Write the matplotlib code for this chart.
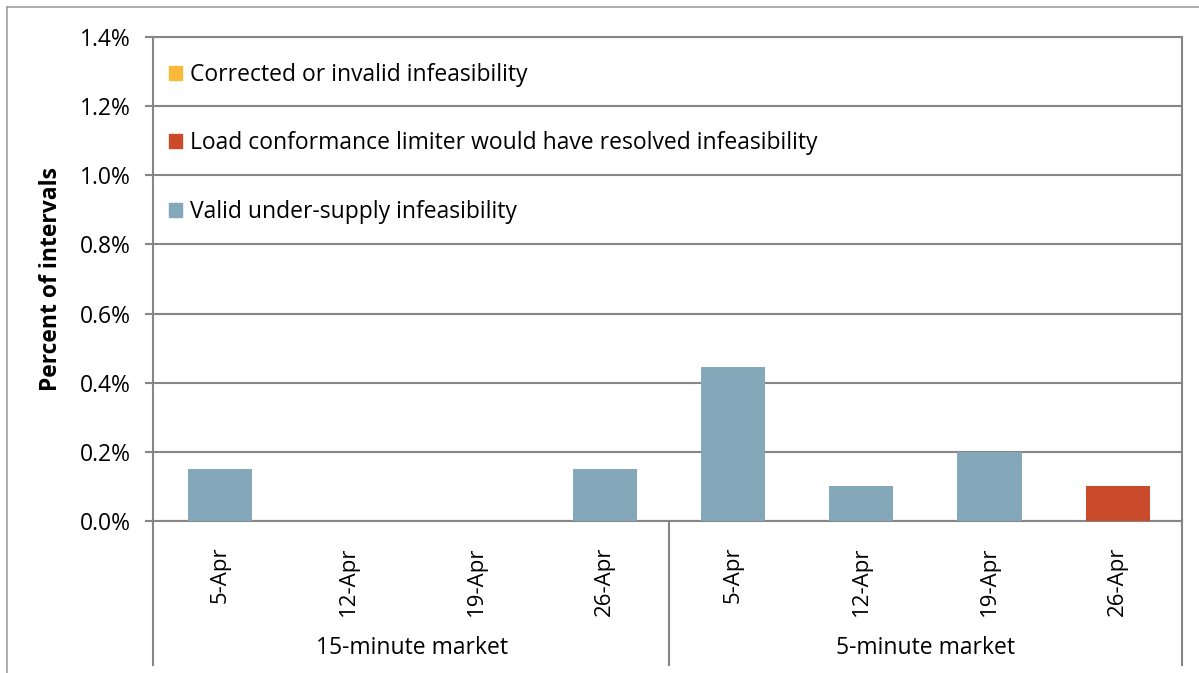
import matplotlib.pyplot as plt
from matplotlib.patches import Patch
from matplotlib.ticker import FuncFormatter

plt.rcParams['font.family'] = ['Open Sans', 'DejaVu Sans']

weeks = ['5-Apr', '12-Apr', '19-Apr', '26-Apr', '5-Apr', '12-Apr', '19-Apr', '26-Apr']
markets = ['15-minute market', '5-minute market']
# percent of intervals
valid = [0.15, 0.0, 0.0, 0.15, 0.445, 0.10, 0.20, 0.0]
limiter = [0.0, 0.0, 0.0, 0.0, 0.0, 0.0, 0.0, 0.10]
corrected = [0.0, 0.0, 0.0, 0.0, 0.0, 0.0, 0.0, 0.0]

c_valid = '#84a7b9'
c_limiter = '#c94b2c'
c_corrected = '#fbb93a'
grey = '#868686'

fig = plt.figure(figsize=(11.99, 6.73), dpi=100)
ax = fig.add_axes([153 / 1199, 1 - 521 / 673, 1029 / 1199, 484 / 673])

x = list(range(len(weeks)))
bottom2 = valid
bottom3 = [a + b for a, b in zip(valid, limiter)]
ax.bar(x, valid, width=0.5, color=c_valid, zorder=3)
ax.bar(x, limiter, width=0.5, bottom=bottom2, color=c_limiter, zorder=3)
ax.bar(x, corrected, width=0.5, bottom=bottom3, color=c_corrected, zorder=3)

ax.set_xlim(-0.52, len(weeks) - 0.5)
ax.set_ylim(0, 1.4)
ax.set_yticks([0.2 * i for i in range(8)])
ax.yaxis.set_major_formatter(FuncFormatter(lambda v, p: '%.1f%%' % v))
ax.grid(axis='y', color=grey, lw=1.5, zorder=0)
ax.tick_params(axis='y', length=6, width=1.5, color=grey, labelsize=16.5, pad=10)
ax.set_ylabel('Percent of intervals', fontsize=16.5, fontweight='bold', labelpad=12)

ax.set_xticks(x)
ax.set_xticklabels(weeks, rotation=90, fontsize=16, va='top')
ax.tick_params(axis='x', length=0, pad=18)

for s in ax.spines.values():
    s.set_color(grey)
    s.set_linewidth(1.5)

# group separators and labels below the axis
trans = ax.get_xaxis_transform()
for xb in [-0.52, 3.5, 7.5]:
    ax.plot([xb, xb], [0, -0.2975], transform=trans, color=grey, lw=1.5, clip_on=False)
for i, m in enumerate(markets):
    ax.text(1.5 + 4 * i, -0.262, m, transform=trans, ha='center', va='center', fontsize=16.5)

# outer chart border
fig.add_artist(plt.Line2D([7 / 1199, 7 / 1199], [0, 1 - 7 / 673], color='#a0a0a0', lw=1.2))
fig.add_artist(plt.Line2D([7 / 1199, 1], [1 - 7 / 673, 1 - 7 / 673], color='#a0a0a0', lw=1.2))

handles = [Patch(color=c_corrected), Patch(color=c_limiter), Patch(color=c_valid)]
labels = ['Corrected or invalid infeasibility',
          'Load conformance limiter would have resolved infeasibility',
          'Valid under-supply infeasibility']
ax.legend(handles, labels, loc='upper left', bbox_to_anchor=(0.0, 0.98), frameon=False,
          fontsize=16.5, handlelength=0.55, handleheight=0.55, handletextpad=0.35,
          labelspacing=1.95, borderaxespad=0.3)

fig.savefig('out.png', dpi=100)
